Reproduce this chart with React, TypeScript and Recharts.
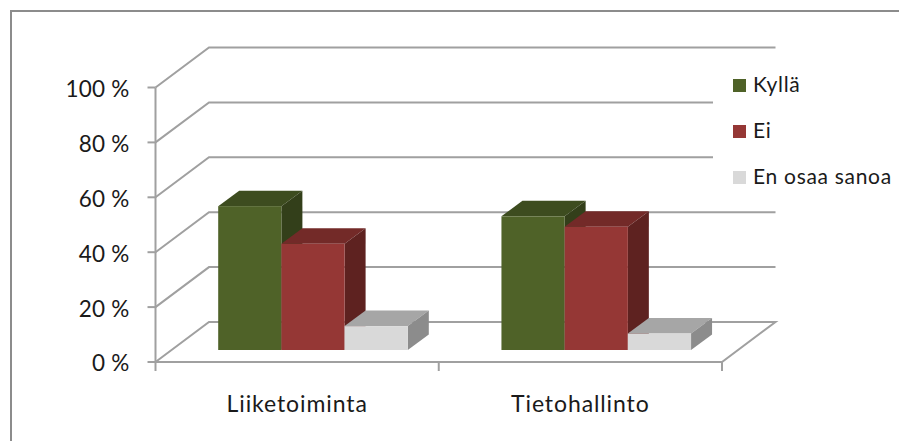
import React from "react";
import {
  BarChart,
  Bar,
  XAxis,
  YAxis,
  CartesianGrid,
  Legend,
} from "recharts";

const categories = ["Liiketoiminta", "Tietohallinto"];
const kylla = [52.4, 48.7];
const ei = [38.7, 44.9];
const enOsaaSanoa = [8.7, 6];
const yTicks = [0, 20, 40, 60, 80, 100];

const seriesNames = ["Kyllä", "Ei", "En osaa sanoa"];

const rows = categories.map((name, i) => ({
  name,
  [seriesNames[0]]: kylla[i],
  [seriesNames[1]]: ei[i],
  [seriesNames[2]]: enOsaaSanoa[i],
}));

const FONT = "Lato, sans-serif";
const TEXT = "#1a1a1a";
const GRID = "#a0a0a0";

// plot box of the front plane
const PLOT_LEFT = 155.5;
const PLOT_TOP = 87.5;
const PLOT_W = 566.5;
const PLOT_H = 274.5;
const BAND = PLOT_W / categories.length;

// how far the back wall sits from the front plane
const WALL_DX = 53.5;
const WALL_DY = 40;
// where the bar fronts stand on the floor, and how deep they are
const BAR_DX = 15.7;
const BAR_DY = 12;
const DEPTH_DX = 21;
const DEPTH_DY = 15.5;

const Box3D = ({ x, y, width, height, fill, top, side }: any) => {
  const fx = x + BAR_DX;
  const fy = y - BAR_DY;
  const r = fx + width;
  const b = fy + height;
  return (
    <g>
      <polygon
        points={`${fx},${fy} ${r},${fy} ${r + DEPTH_DX},${fy - DEPTH_DY} ${fx + DEPTH_DX},${fy - DEPTH_DY}`}
        fill={top}
      />
      <polygon
        points={`${r},${fy} ${r + DEPTH_DX},${fy - DEPTH_DY} ${r + DEPTH_DX},${b - DEPTH_DY} ${r},${b}`}
        fill={side}
      />
      <rect x={fx} y={fy} width={width} height={height} fill={fill} />
    </g>
  );
};

// each gridline runs up the left wall, then along the back wall;
// the floor closes into a full outline
const WallLine = ({ x1, x2, y1, index }: any) => {
  const isFloor = Math.abs(y1 - (PLOT_TOP + PLOT_H)) < 1;
  const pts = [
    `${x1},${y1}`,
    `${x1 + WALL_DX},${y1 - WALL_DY}`,
    `${x2 + WALL_DX},${y1 - WALL_DY}`,
  ];
  if (isFloor) pts.push(`${x2},${y1}`, `${x1},${y1}`);
  return (
    <polyline
      key={`wall-${index}`}
      points={pts.join(" ")}
      fill="none"
      stroke={GRID}
      strokeWidth={2}
    />
  );
};

// tick marks sit on the category boundaries, not the category centres
const CategoryTick = ({ x, y, payload, index }: any) => {
  const axisY = PLOT_TOP + PLOT_H;
  const left = x - BAND / 2;
  const right = x + BAND / 2;
  return (
    <g>
      <line x1={left} x2={left} y1={axisY} y2={axisY + 9} stroke={GRID} strokeWidth={2} />
      {index === categories.length - 1 && (
        <line x1={right} x2={right} y1={axisY} y2={axisY + 9} stroke={GRID} strokeWidth={2} />
      )}
      <text
        x={x}
        y={y + 42}
        textAnchor="middle"
        fontFamily={FONT}
        fontSize={23}
        letterSpacing={0.9}
        fill={TEXT}
      >
        {payload.value}
      </text>
    </g>
  );
};

const LegendBox = ({ payload }: any) => (
  <div>
    {(payload || []).map((item: any) => (
      <div
        key={item.value}
        style={{ height: 46.3, display: "flex", alignItems: "center", paddingLeft: 20 }}
      >
        <span style={{ width: 13, height: 13, background: item.color, marginRight: 7 }} />
        <span
          style={{
            fontFamily: FONT,
            fontSize: 21,
            letterSpacing: 0.7,
            color: TEXT,
            whiteSpace: "nowrap",
            position: "relative",
            top: -2,
          }}
        >
          {item.value}
        </span>
      </div>
    ))}
  </div>
);

const App = () => {
  return (
    <div style={{ position: "absolute", left: 0, top: 0, width: 899, height: 441, background: "#fff", overflow: "hidden" }}>
      <div
        style={{
          position: "absolute",
          left: 10,
          top: 10,
          right: 0,
          bottom: 0,
          borderLeft: "2px solid #8c8c8c",
          borderTop: "2px solid #8c8c8c",
        }}
      />
      <BarChart
        width={899}
        height={441}
        data={rows}
        barSize={63.2}
        barGap={0}
        margin={{ top: PLOT_TOP, left: 0, right: 899 - PLOT_LEFT - PLOT_W, bottom: 441 - PLOT_TOP - PLOT_H - 40 }}
        style={{ position: "absolute", left: 0, top: 0 }}
      >
        <CartesianGrid vertical={false} horizontal={WallLine} syncWithTicks />
        <XAxis
          dataKey="name"
          height={40}
          axisLine={false}
          tickLine={false}
          tick={CategoryTick}
          interval={0}
        />
        <YAxis
          width={PLOT_LEFT}
          domain={[0, 100]}
          ticks={yTicks}
          interval={0}
          axisLine={{ stroke: GRID, strokeWidth: 2 }}
          tickLine={{ stroke: GRID, strokeWidth: 2 }}
          tickSize={8}
          tickMargin={18}
          tickFormatter={(v) => `${v} %`}
          tick={{ fontFamily: FONT, fontSize: 22.5, letterSpacing: 0.2, fill: TEXT, dy: 1.5 }}
        />
        <Bar
          dataKey={seriesNames[0]}
          fill="#4f6228"
          isAnimationActive={false}
          shape={(p: any) => <Box3D {...p} top="#3d4c1f" side="#333f1a" />}
        />
        <Bar
          dataKey={seriesNames[1]}
          fill="#953735"
          isAnimationActive={false}
          shape={(p: any) => <Box3D {...p} top="#732a28" side="#5e2220" />}
        />
        <Bar
          dataKey={seriesNames[2]}
          fill="#d9d9d9"
          isAnimationActive={false}
          shape={(p: any) => <Box3D {...p} top="#a6a6a6" side="#8c8c8c" />}
        />
        {/* white box hides the wall lines behind the legend */}
        <Legend
          content={LegendBox}
          layout="vertical"
          align="center"
          verticalAlign="middle"
          itemSorter={null}
          wrapperStyle={{ position: "absolute", left: 713, top: 62, width: 186, height: 139, bottom: "auto", background: "#fff" }}
        />
      </BarChart>
    </div>
  );
};

export default App;
